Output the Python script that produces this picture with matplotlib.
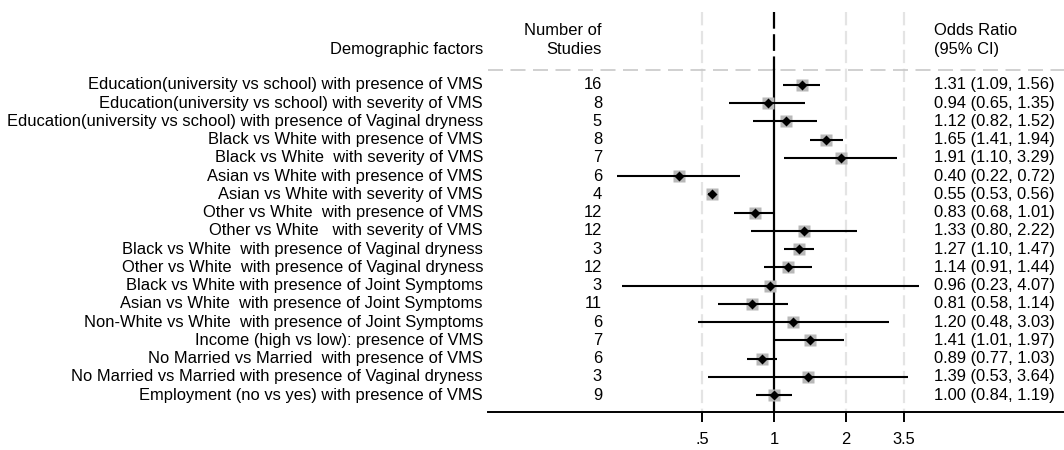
import matplotlib
matplotlib.use("Agg")
from matplotlib import pyplot as plt
from matplotlib import transforms
import numpy as np

labels = [
    "Education(university vs school) with presence of VMS",
    "Education(university vs school) with severity of VMS",
    "Education(university vs school) with presence of Vaginal dryness",
    "Black vs White with presence of VMS",
    "Black vs White  with severity of VMS",
    "Asian vs White with presence of VMS",
    "Asian vs White with severity of VMS",
    "Other vs White  with presence of VMS",
    "Other vs White   with severity of VMS",
    "Black vs White  with presence of Vaginal dryness",
    "Other vs White  with presence of Vaginal dryness",
    "Black vs White with presence of Joint Symptoms",
    "Asian vs White  with presence of Joint Symptoms",
    "Non-White vs White  with presence of Joint Symptoms",
    "Income (high vs low): presence of VMS",
    "No Married vs Married  with presence of VMS",
    "No Married vs Married with presence of Vaginal dryness",
    "Employment (no vs yes) with presence of VMS",
]
n_studies = [16, 8, 5, 8, 7, 6, 4, 12, 12, 3, 12, 3, 11, 6, 7, 6, 3, 9]
odds = [1.31, 0.94, 1.12, 1.65, 1.91, 0.40, 0.55, 0.83, 1.33,
        1.27, 1.14, 0.96, 0.81, 1.20, 1.41, 0.89, 1.39, 1.00]
ci_lo = [1.09, 0.65, 0.82, 1.41, 1.10, 0.22, 0.53, 0.68, 0.80,
         1.10, 0.91, 0.23, 0.58, 0.48, 1.01, 0.77, 0.53, 0.84]
ci_hi = [1.56, 1.35, 1.52, 1.94, 3.29, 0.72, 0.56, 1.01, 2.22,
         1.47, 1.44, 4.07, 1.14, 3.03, 1.97, 1.03, 3.64, 1.19]
xticks = [0.5, 1, 2, 3.5]
xticklabels = [".5", "1", "2", "3.5"]

plt.rcParams['font.family'] = ['Liberation Sans', 'DejaVu Sans']
fs = 11.9

W, H = 1064, 450
fig = plt.figure(figsize=(W / 100, H / 100), dpi=100)
# axes spans from the axis line up to the top of the image
ax = fig.add_axes([488 / W, (H - 412) / H, 1 - 488 / W, 412 / H])
ax.set_xscale('log')
ax.set_xlim(0.0631, 16.47)
ax.set_ylim(17.93, -4.66)

rows = np.arange(len(labels))

for s in ['top', 'right', 'left']:
    ax.spines[s].set_visible(False)
ax.spines['bottom'].set_linewidth(1.4)
ax.set_yticks([])
ax.set_xticks(xticks)
ax.set_xticklabels(xticklabels, fontsize=fs)
ax.xaxis.set_minor_locator(matplotlib.ticker.NullLocator())
ax.tick_params(axis='x', length=7, width=1.4, pad=7.5)

# grid lines at tick values
top_y = -4.02
sep_y = -0.82
for t in xticks:
    if t == 1:
        continue
    ax.plot([t, t], [top_y, 17.93], color='#e4e4e4', lw=1.6,
            dashes=(6, 2.5), zorder=1)
ax.plot([1, 1], [top_y, sep_y], color='black', lw=1.6, dashes=(7.5, 2.5), zorder=2)
ax.plot([1, 1], [sep_y, 17.93], color='black', lw=1.6, zorder=2)
ax.plot([0.0631, 16.47], [sep_y, sep_y], color='#c8c8c8', lw=1.2,
        dashes=(9, 4.5), zorder=1, clip_on=False)

ax.plot(odds, rows, 's', color='#b8b8b8', markersize=8.0, mec='none', zorder=3)
ax.hlines(rows, ci_lo, ci_hi, color='black', lw=1.5, zorder=4)
ax.plot(odds, rows, 'D', color='black', markersize=4.9, mec='none', zorder=5)

tr = transforms.blended_transform_factory(fig.transFigure, ax.transData)
for i in rows:
    fig.text(483 / W, i, labels[i], transform=tr, ha='right', va='center', fontsize=fs)
    fig.text(602 / W, i, str(n_studies[i]), transform=tr, ha='right', va='center', fontsize=fs)
    fig.text(934 / W, i, "{0:.2f} ({1:.2f}, {2:.2f})".format(odds[i], ci_lo[i], ci_hi[i]),
             transform=tr, ha='left', va='center', fontsize=fs)

fig.text(483 / W, -1.97, "Demographic factors", transform=tr, ha='right', va='center', fontsize=fs)
fig.text(602 / W, -2.98, "Number of", transform=tr, ha='right', va='center', fontsize=fs)
fig.text(602 / W, -1.97, "Studies", transform=tr, ha='right', va='center', fontsize=fs)
fig.text(934 / W, -2.98, "Odds Ratio", transform=tr, ha='left', va='center', fontsize=fs)
fig.text(934 / W, -1.97, "(95% CI)", transform=tr, ha='left', va='center', fontsize=fs)

plt.savefig('out.png', dpi=100)
